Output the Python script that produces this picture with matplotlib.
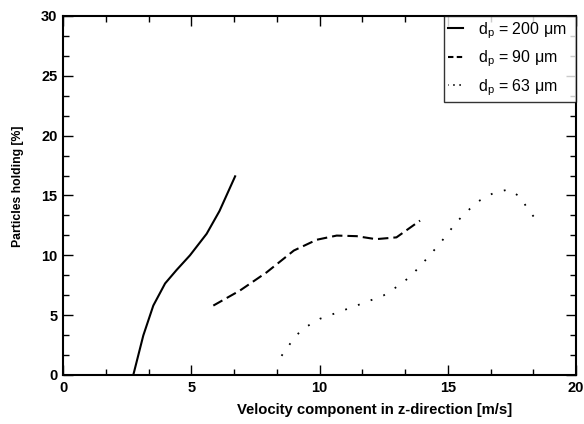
import numpy as np
import matplotlib.pyplot as plt
from matplotlib.ticker import MultipleLocator

# values
v_200 = [2.74, 3.13, 3.52, 3.98, 4.43, 4.95, 5.6, 6.1, 6.71]
h_200 = [0.0, 3.3, 5.8, 7.65, 8.78, 10.0, 11.8, 13.7, 16.6]

v_90 = [5.86, 6.9, 7.94, 9.0, 9.89, 10.67, 11.45, 12.2, 13.0, 13.92]
h_90 = [5.8, 7.06, 8.58, 10.4, 11.3, 11.65, 11.6, 11.35, 11.5, 12.9]

v_63 = [8.52, 8.85, 9.3, 10.02, 10.8, 11.7, 12.5, 13.0, 13.53, 14.05,
        14.7, 15.35, 15.87, 16.26, 16.78, 17.36, 17.82, 18.14, 18.4]
h_63 = [1.6, 2.6, 3.8, 4.7, 5.3, 6.0, 6.65, 7.35, 8.2, 9.4,
        11.0, 12.8, 13.9, 14.6, 15.2, 15.5, 14.9, 13.8, 13.1]

labels = [r'd$_\mathregular{p}$ = 200 $\mathregular{\mu}$m  ',
          r'd$_\mathregular{p}$ = 90 $\mathregular{\mu}$m  ',
          r'd$_\mathregular{p}$ = 63 $\mathregular{\mu}$m  ']

plt.rcParams['font.family'] = ['Liberation Sans', 'DejaVu Sans']
plt.rcParams['mathtext.fontset'] = 'custom'
plt.rcParams['mathtext.rm'] = 'Liberation Sans'

fig = plt.figure(figsize=(5.84, 4.24), dpi=100)
ax = fig.add_axes([0.1079, 0.1156, 0.8784, 0.8467])

ax.plot(v_200, h_200, color='black', lw=1.5, ls='-', label=labels[0])
ax.plot(v_90, h_90, color='black', lw=1.5, ls=(0, (5.0, 2.4)), label=labels[1])
ax.plot(v_63, h_63, color='black', lw=1.3, ls=(0, (1, 6.5)), label=labels[2])

ax.set_xlim(0, 20)
ax.set_ylim(0, 30)
ax.xaxis.set_major_locator(MultipleLocator(5))
ax.xaxis.set_minor_locator(MultipleLocator(5 / 3))
ax.yaxis.set_major_locator(MultipleLocator(5))
ax.yaxis.set_minor_locator(MultipleLocator(5 / 3))
ax.tick_params(which='both', direction='in', top=True, right=True, width=1)
ax.tick_params(which='major', length=7, labelsize=10.5, pad=4)
ax.tick_params(which='minor', length=4.5)
for lab in ax.get_xticklabels() + ax.get_yticklabels():
    lab.set_fontweight('bold')
for s in ax.spines.values():
    s.set_linewidth(1.5)

ax.set_xlabel('Velocity component in z-direction [m/s]', fontsize=10.7,
              fontweight='bold')
ax.xaxis.label.set_va('center')
ax.xaxis.set_label_coords(0.608, -0.0975)
ax.set_ylabel('Particles holding [%]', fontsize=8.8, fontweight='bold')
ax.yaxis.label.set_va('center')
ax.yaxis.set_label_coords(-0.087, 0.526)

leg = ax.legend(loc='upper right', fontsize=11.5, frameon=True, fancybox=False,
                borderaxespad=0, handlelength=0.9, handletextpad=0.95,
                labelspacing=0.5, borderpad=0.25)
leg.get_frame().set_edgecolor('black')
leg.get_frame().set_linewidth(1)
# short legend samples: two dashes and three dots, as in the original
leg_lines = leg.get_lines()
leg_lines[1].set_linestyle((0, (2.6, 1.6)))
leg_lines[2].set_linestyle((0.5, (0.8, 2.6)))

fig.savefig('out.png', dpi=100)
